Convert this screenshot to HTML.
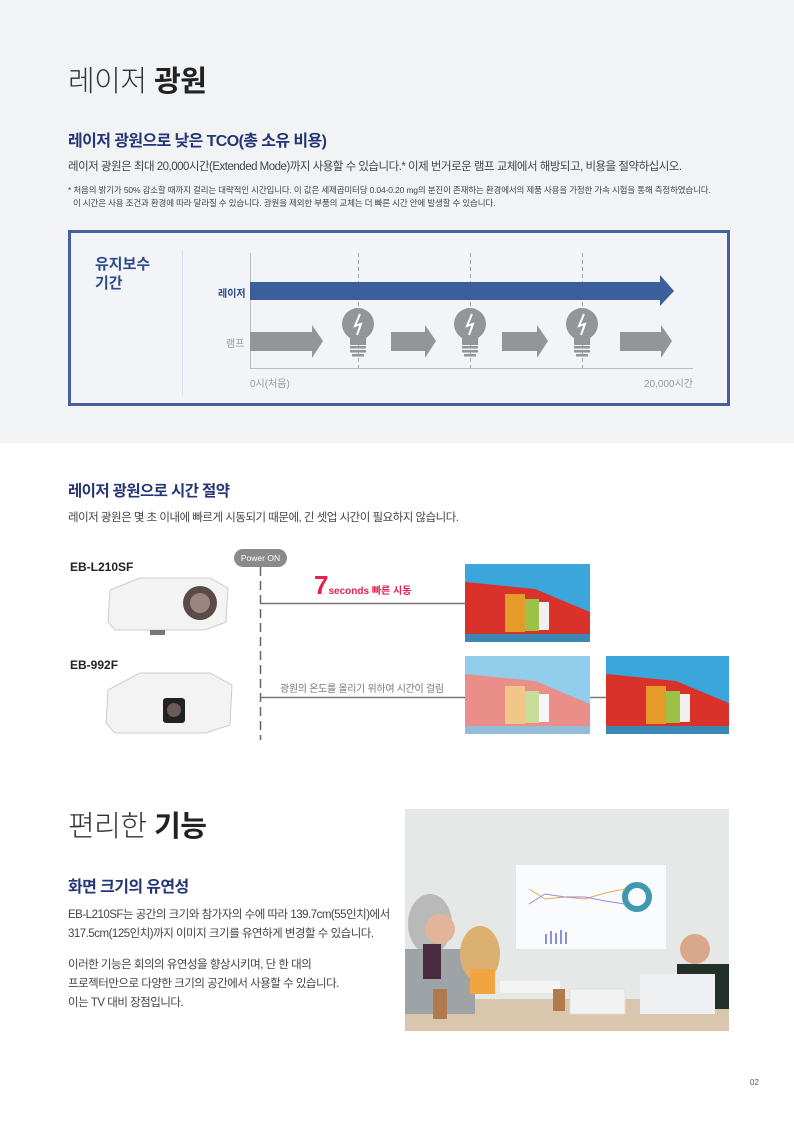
<!DOCTYPE html>
<html><head><meta charset="utf-8"><style>
*{margin:0;padding:0;box-sizing:border-box}
body{width:794px;height:1123px;position:relative;background:#fff;font-family:"Liberation Sans","Noto Sans CJK KR",sans-serif;color:#333;overflow:hidden}
.a{position:absolute;white-space:nowrap}
.h1{font-size:29px;color:#333;font-weight:300;letter-spacing:-0.5px}
.h1 b{font-weight:700;color:#222}
.h2{font-size:16px;font-weight:700;color:#253676;letter-spacing:-0.6px}
.t{font-size:11.5px;color:#444;letter-spacing:-0.5px}
.f{font-size:8.5px;color:#444;letter-spacing:-0.15px}
</style></head><body>
<div class="a" style="left:0;top:0;width:794px;height:443px;background:#f2f3f5"></div>
<div class="a h1" style="left:68px;top:58px">레이저 <b>광원</b></div>
<div class="a h2" style="left:68px;top:127px">레이저 광원으로 낮은 TCO(총 소유 비용)</div>
<div class="a t" style="left:68px;top:158px">레이저 광원은 최대 20,000시간(Extended Mode)까지 사용할 수 있습니다.* 이제 번거로운 램프 교체에서 해방되고, 비용을 절약하십시오.</div>
<div class="a f" style="left:68px;top:184px">* 처음의 밝기가 50% 감소할 때까지 걸리는 대략적인 시간입니다. 이 값은 세제곱미터당 0.04-0.20 mg의 분진이 존재하는 환경에서의 제품 사용을 가정한 가속 시험을 통해 측정하였습니다.</div>
<div class="a f" style="left:73px;top:197px">이 시간은 사용 조건과 환경에 따라 달라질 수 있습니다. 광원을 제외한 부품의 교체는 더 빠른 시간 안에 발생할 수 있습니다.</div>

<div class="a" style="left:68px;top:230px;width:662px;height:176px;border:3px solid #45609c;background:#f3f4f7"></div>
<div class="a" style="left:182px;top:250px;width:1px;height:145px;background:#dde"></div>
<div class="a" style="left:95px;top:255px;font-size:15px;font-weight:700;color:#2e4a8c;line-height:19px">유지보수<br>기간</div>
<div class="a" style="left:218px;top:285px;font-size:10px;font-weight:700;color:#2e4a8c">레이저</div>
<div class="a" style="left:226px;top:335px;font-size:10px;color:#999">램프</div>
<div class="a" style="left:250px;top:375px;font-size:10px;color:#999">0시(처음)</div>
<div class="a" style="left:630px;top:375px;width:63px;text-align:right;font-size:10px;color:#999">20,000시간</div>
<svg class="a" style="left:0;top:0" width="794" height="443">
<line x1="250.5" y1="253" x2="250.5" y2="368" stroke="#bbb"/>
<line x1="250" y1="368.5" x2="693" y2="368.5" stroke="#bbb"/>
<g stroke="#aaa" stroke-dasharray="4,3"><line x1="358.5" y1="253" x2="358.5" y2="368"/><line x1="470.5" y1="253" x2="470.5" y2="368"/><line x1="582.5" y1="253" x2="582.5" y2="368"/></g>
<polygon points="250,282 660,282 660,275 674,291 660,306 660,300 250,300" fill="#3a5f9a"/>
<g fill="#939598">
<polygon points="250,332 312,332 312,325 323,341 312,358 312,351 250,351"/>
<polygon points="391,332 425,332 425,325 436,341 425,358 425,351 391,351"/>
<polygon points="502,332 537,332 537,325 548,341 537,358 537,351 502,351"/>
<polygon points="620,332 661,332 661,325 672,341 661,358 661,351 620,351"/>
</g>
<g id="b"><circle cx="358" cy="324" r="16" fill="#939598"/><rect x="350" y="333" width="16" height="12" fill="#939598"/><rect x="350" y="346" width="16" height="2.5" fill="#939598"/><rect x="350" y="350" width="16" height="2.5" fill="#939598"/><rect x="352" y="354" width="12" height="2.5" fill="#939598"/><polyline points="360,314 355,326 361,324 357,335" fill="none" stroke="#fff" stroke-width="2"/></g>
<use href="#b" x="112"/><use href="#b" x="224"/>
</svg>

<div class="a h2" style="left:68px;top:479px;font-size:15.5px">레이저 광원으로 시간 절약</div>
<div class="a t" style="left:68px;top:509px">레이저 광원은 몇 초 이내에 빠르게 시동되기 때문에, 긴 셋업 시간이 필요하지 않습니다.</div>
<div class="a" style="left:70px;top:560px;font-size:12px;font-weight:700;color:#222">EB-L210SF</div>
<div class="a" style="left:70px;top:658px;font-size:12px;font-weight:700;color:#222">EB-992F</div>
<div class="a" style="left:234px;top:549px;width:53px;height:18px;border-radius:9px;background:#8a8a8a;color:#fff;font-size:8.5px;text-align:center;line-height:18px">Power ON</div>
<svg class="a" style="left:0;top:540px" width="794" height="210">
<line x1="260.5" y1="27" x2="260.5" y2="200" stroke="#666" stroke-width="1.5" stroke-dasharray="9,5"/>
<line x1="260" y1="63.5" x2="465" y2="63.5" stroke="#777" stroke-width="1.5"/>
<line x1="260" y1="157.5" x2="465" y2="157.5" stroke="#777" stroke-width="1.5"/>
<line x1="590" y1="157.5" x2="606" y2="157.5" stroke="#777" stroke-width="1.5"/>
<path d="M110,50 L140,38 L210,38 L228,48 L226,82 L205,90 L115,90 L108,82 Z" fill="#f3f3f3" stroke="#ccc"/>
<circle cx="200" cy="63" r="17" fill="#5a4a48"/><circle cx="200" cy="63" r="10" fill="#9b8580"/>
<rect x="150" y="90" width="15" height="5" fill="#777"/>
<path d="M108,150 L140,133 L210,133 L232,145 L230,185 L205,193 L115,193 L106,183 Z" fill="#f3f3f3" stroke="#ccc"/>
<rect x="163" y="158" width="22" height="25" rx="3" fill="#222"/><circle cx="174" cy="170" r="7" fill="#6b5a5a"/>
</svg>
<div class="a" style="left:314px;top:570px;color:#e8204c;font-weight:700"><span style="font-size:26px">7</span><span style="font-size:10px">seconds 빠른 시동</span></div>
<div class="a" style="left:280px;top:680px;font-size:10px;color:#777;letter-spacing:-0.3px">광원의 온도를 올리기 위하여 시간이 걸림</div>
<svg width="0" height="0" style="position:absolute"><defs>
<g id="p"><rect width="125" height="78" fill="#3aa6dc"/><polygon points="0,18 70,25 125,48 125,78 0,78" fill="#d8322a"/><rect x="40" y="30" width="20" height="38" fill="#e69a2a"/><rect x="60" y="35" width="14" height="32" fill="#9bc246"/><rect x="74" y="38" width="10" height="28" fill="#f0f0f0"/><rect x="84" y="40" width="14" height="26" fill="#d8322a"/><rect x="0" y="70" width="125" height="8" fill="#3b88b5"/></g></defs></svg>
<svg class="a" style="left:465px;top:564px" width="125" height="78"><use href="#p"/></svg>
<svg class="a" style="left:465px;top:656px;opacity:.55" width="125" height="78"><use href="#p"/></svg>
<svg class="a" style="left:606px;top:656px" width="123" height="78"><use href="#p"/></svg>

<div class="a h1" style="left:68px;top:803px">편리한 <b>기능</b></div>
<div class="a h2" style="left:68px;top:873px">화면 크기의 유연성</div>
<div class="a t" style="left:68px;top:906px;line-height:19px">EB-L210SF는 공간의 크기와 참가자의 수에 따라 139.7cm(55인치)에서<br>317.5cm(125인치)까지 이미지 크기를 유연하게 변경할 수 있습니다.</div>
<div class="a t" style="left:68px;top:956px;line-height:19px">이러한 기능은 회의의 유연성을 향상시키며, 단 한 대의<br>프로젝터만으로 다양한 크기의 공간에서 사용할 수 있습니다.<br>이는 TV 대비 장점입니다.</div>

<svg class="a" style="left:405px;top:809px" width="324" height="222">
<rect width="324" height="222" fill="#e6e8e8"/>
<rect x="111" y="56" width="150" height="84" fill="#fafbfd"/>
<circle cx="232" cy="88" r="12" fill="none" stroke="#3f9ab0" stroke-width="6"/>
<g fill="#8a8fd8"><rect x="140" y="125" width="2" height="10"/><rect x="145" y="122" width="2" height="13"/><rect x="150" y="124" width="2" height="11"/><rect x="155" y="121" width="2" height="14"/><rect x="160" y="123" width="2" height="12"/></g>
<polyline points="124,80 140,90 160,88 180,90 200,84 220,80" fill="none" stroke="#e8a85a"/>
<polyline points="124,95 140,85 160,88 180,88 200,92 220,95" fill="none" stroke="#9a8ae0"/>
<rect x="0" y="190" width="324" height="32" fill="#d9c6ad"/>
<ellipse cx="25" cy="115" rx="22" ry="30" fill="#b9b9b9"/>
<rect x="0" y="140" width="70" height="65" fill="#9ea3a8"/>
<rect x="18" y="135" width="18" height="35" fill="#4a2a3e"/>
<circle cx="35" cy="120" r="15" fill="#e2b49a"/>
<ellipse cx="75" cy="145" rx="20" ry="28" fill="#dcb070"/>
<rect x="65" y="160" width="25" height="25" fill="#f0a540"/>
<circle cx="290" cy="140" r="15" fill="#d9a88a"/>
<rect x="272" y="155" width="52" height="45" fill="#24302a"/>
<rect x="95" y="172" width="60" height="12" fill="#f4f4f4"/>
<rect x="165" y="180" width="55" height="25" fill="#f2f2f2" stroke="#ddd"/>
<rect x="235" y="165" width="75" height="40" fill="#eef0f2"/>
<rect x="28" y="180" width="14" height="30" fill="#b07a4c"/>
<rect x="148" y="180" width="12" height="22" fill="#b07a4c"/>
</svg>
<div class="a" style="left:750px;top:1078px;font-size:8px;color:#555">02</div>
</body></html>
